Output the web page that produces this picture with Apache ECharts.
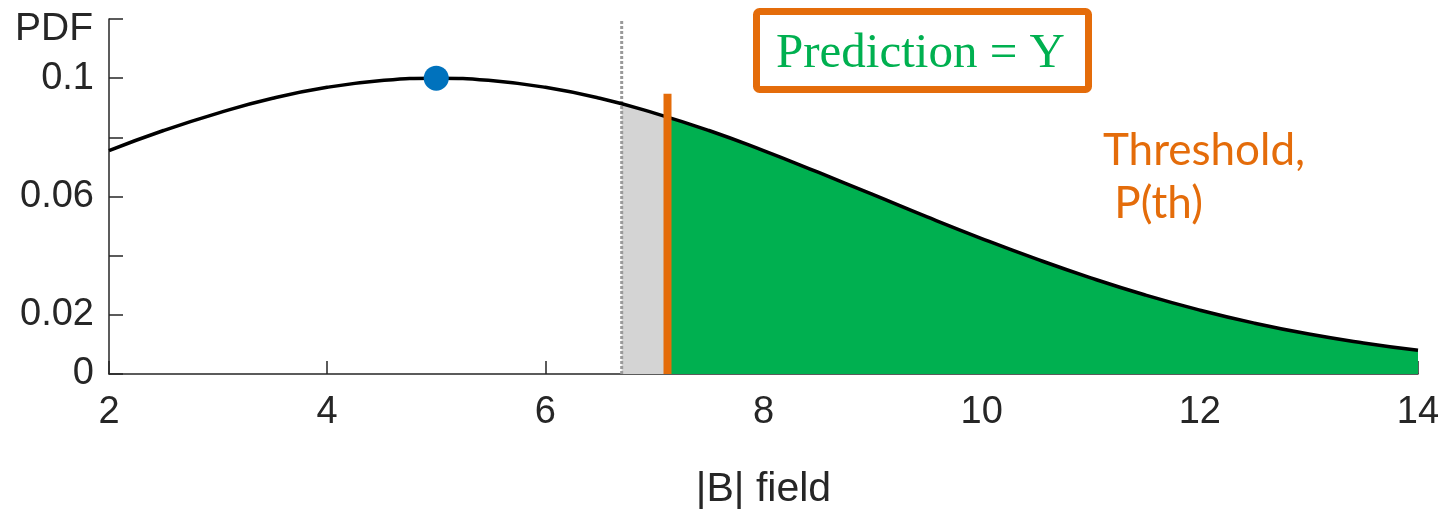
<!DOCTYPE html>
<html>
<head>
<meta charset="utf-8">
<script src="https://cdn.jsdelivr.net/npm/echarts@6/dist/echarts.min.js"></script>
<style>
html,body{margin:0;padding:0;background:#fff;}
#chart{width:1451px;height:515px;}
</style>
</head>
<body>
<div id="chart"></div>
<script>
// ---- data ----
var curveX = [2, 2.5, 3, 3.5, 4, 4.5, 5, 5.5, 6, 6.5, 7, 7.5, 8, 8.5, 9, 9.5, 10, 10.5, 11, 11.5, 12, 12.5, 13, 13.5, 14];
var curveY = [0.0755, 0.0823, 0.0882, 0.0932, 0.0969, 0.0992, 0.1, 0.0992, 0.0969, 0.0932, 0.0882, 0.0823, 0.0755, 0.0682, 0.0607, 0.0531, 0.0458, 0.0389, 0.0325, 0.0267, 0.0216, 0.0172, 0.0135, 0.0105, 0.0080];
var peak = [5, 0.1];
var dottedX = 6.7, dottedY = 0.0914;      // start of grey region
var thresholdX = 7.12, thresholdY = 0.0869; // threshold (orange line)
var thresholdLineTop = 0.0947;
var yTickLabels = ['0', '0.02', '0.06', '0.1'];
var xAxisName = '|B| field';
var yAxisName = 'PDF';
var boxText = 'Prediction = Y';
var noteText = 'Threshold,\n P(th)';

var curve = curveX.map(function (x, i) { return [x, curveY[i]]; });
var greyArea = [[dottedX, dottedY]].concat(curve.filter(function (p) { return p[0] > dottedX && p[0] < thresholdX; })).concat([[thresholdX, thresholdY]]);
var greenArea = [[thresholdX, thresholdY]].concat(curve.filter(function (p) { return p[0] > thresholdX; }));

var axisColor = '#262626';
var orange = '#E46C0A';
var chart = echarts.init(document.getElementById('chart'));
chart.setOption({
  animation: false,
  grid: { left: 109, right: 33, top: 19, bottom: 140 },
  xAxis: {
    type: 'value', min: 2, max: 14, interval: 2,
    name: xAxisName, nameLocation: 'middle', nameGap: 95,
    nameTextStyle: { fontFamily: 'Liberation Sans', fontSize: 41, color: '#262626' },
    axisLine: { lineStyle: { color: axisColor, width: 1.5 } },
    axisTick: { inside: true, length: 13, lineStyle: { color: axisColor, width: 1.5 } },
    axisLabel: { margin: 20, fontFamily: 'Liberation Sans', fontSize: 38, color: '#262626' },
    splitLine: { show: false }
  },
  yAxis: {
    type: 'value', min: 0, max: 0.12, interval: 0.02,
    name: yAxisName, nameLocation: 'end', nameGap: -10,
    nameTextStyle: { fontFamily: 'Liberation Sans', fontSize: 39, color: '#262626', align: 'right', verticalAlign: 'middle', padding: [0, 16, 0, 0] },
    axisLine: { show: true, lineStyle: { color: axisColor, width: 1.5 } },
    axisTick: { inside: true, length: 14, lineStyle: { color: axisColor, width: 1.5 } },
    axisLabel: {
      margin: 15, fontFamily: 'Liberation Sans', fontSize: 38, color: '#262626',
      formatter: function (v) {
        for (var i = 0; i < yTickLabels.length; i++) {
          if (Math.abs(parseFloat(yTickLabels[i]) - v) < 1e-9) return yTickLabels[i];
        }
        return '';
      }
    },
    splitLine: { show: false }
  },
  series: [
    {
      type: 'line', data: greyArea, smooth: true, symbol: 'none',
      lineStyle: { width: 0 }, areaStyle: { color: '#D4D4D4', opacity: 1 }, z: 1
    },
    {
      type: 'line', data: greenArea, smooth: true, symbol: 'none',
      lineStyle: { width: 0 }, areaStyle: { color: '#00B050', opacity: 1 }, z: 1
    },
    {
      type: 'line', data: [[dottedX, 0], [dottedX, 0.12]], symbol: 'none',
      lineStyle: { color: '#9A9A9A', width: 3, type: [3, 2] }, z: 2
    },
    {
      type: 'line', data: curve, smooth: true, symbol: 'none',
      lineStyle: { color: '#000', width: 3.5 }, z: 3
    },
    {
      type: 'line', data: [[thresholdX, 0], [thresholdX, thresholdLineTop]], symbol: 'none',
      lineStyle: { color: orange, width: 8, cap: 'butt' }, z: 4
    },
    {
      type: 'scatter', data: [peak], symbolSize: 25,
      itemStyle: { color: '#0072BD', opacity: 1 }, z: 5
    }
  ],
  graphic: [
    {
      type: 'rect', shape: { x: 756.5, y: 11.5, width: 332, height: 78, r: 3 },
      style: { fill: '#fff', stroke: orange, lineWidth: 7 }, z: 10
    },
    {
      type: 'text', x: 776, y: 54,
      style: { text: boxText, font: '49px "Liberation Serif"', fill: '#00B050', verticalAlign: 'middle', align: 'left' }, z: 11
    },
    {
      type: 'text', x: 1103, y: 124,
      style: { text: noteText, font: '44px Lato', fill: orange, lineHeight: 53, verticalAlign: 'top', align: 'left' }, z: 11
    }
  ]
});
</script>
</body>
</html>
